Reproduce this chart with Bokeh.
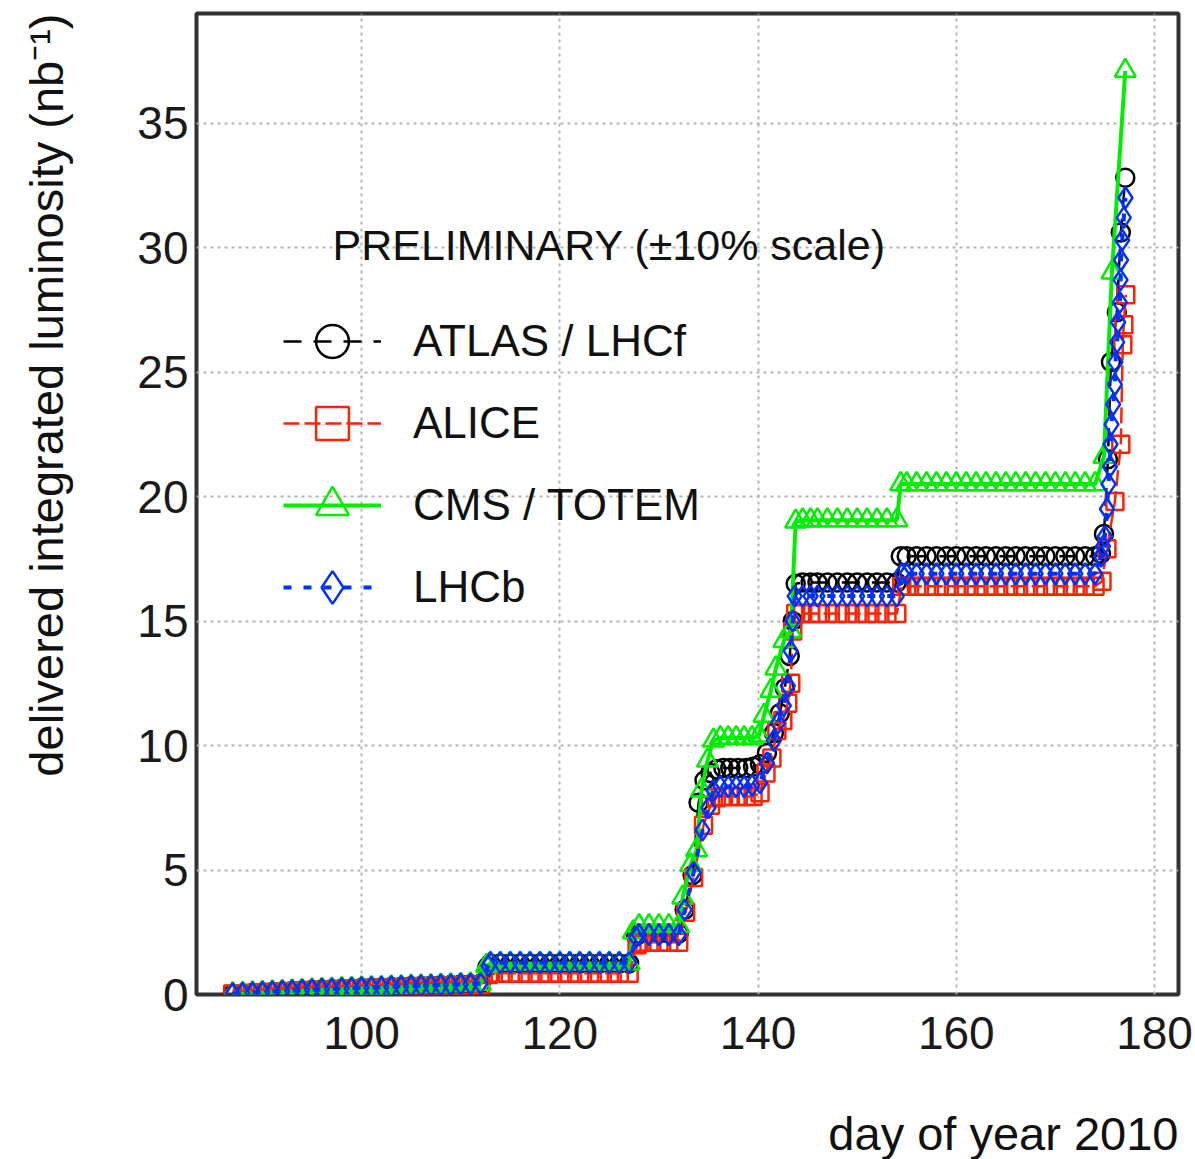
from bokeh.plotting import figure
from bokeh.models import Range1d, Legend, LegendItem, Label, Title, FixedTicker
from bokeh.embed import file_html
from bokeh.resources import INLINE

X_TICKS = [100, 120, 140, 160, 180]
Y_TICKS = [0, 5, 10, 15, 20, 25, 30, 35]

ATLAS_DAY = [
    87, 88, 89, 90, 91, 92, 93, 94, 95, 96, 97, 98, 99,
    100, 101, 102, 103, 104, 105, 106, 107, 108, 109, 110, 111, 112,
    112.7, 113, 114, 115, 116, 117, 118, 119, 120, 121, 122, 123, 124, 125, 126, 127,
    127.7, 128, 129, 130, 131, 132,
    132.6, 133.4, 134.0, 134.6, 135.2, 135.8, 136.5, 137.2, 138.0, 138.8, 139.5,
    140.2, 140.9, 141.6, 142.2, 142.7, 143.2, 143.5, 143.8,
    144.5, 145.3, 146, 147, 148, 149, 150, 151, 152, 153, 154.0,
    154.4, 155, 156, 157, 158, 159, 160, 161, 162, 163, 164, 165, 166, 167, 168, 169, 170, 171, 172, 173, 174,
    174.6, 174.9, 175.3, 175.6, 176.2, 176.6, 177.05,
]
ATLAS_LUM = [
    0.02, 0.04, 0.06, 0.08, 0.10, 0.12, 0.14, 0.16, 0.18, 0.20, 0.21, 0.23, 0.24,
    0.26, 0.27, 0.28, 0.30, 0.31, 0.33, 0.34, 0.35, 0.37, 0.38, 0.40, 0.41, 0.43,
    1.10, 1.25, 1.25, 1.25, 1.25, 1.25, 1.25, 1.25, 1.25, 1.25, 1.25, 1.25, 1.25, 1.25, 1.25, 1.25,
    2.35, 2.45, 2.45, 2.45, 2.45, 2.45,
    3.4, 4.8, 7.7, 8.6, 8.9, 9.05, 9.1, 9.1, 9.1, 9.1, 9.15,
    9.25, 9.7, 10.5, 11.3, 12.3, 13.6, 15.0, 16.5,
    16.55, 16.55, 16.55, 16.55, 16.55, 16.55, 16.55, 16.55, 16.55, 16.55, 16.55,
    17.6, 17.6, 17.6, 17.6, 17.6, 17.6, 17.6, 17.6, 17.6, 17.6, 17.6, 17.6, 17.6, 17.6, 17.6, 17.6, 17.6, 17.6, 17.6, 17.6, 17.6,
    17.7, 18.5, 21.5, 25.4, 27.4, 30.6, 32.8,
]

ALICE_DAY = [
    87, 88, 89, 90, 91, 92, 93, 94, 95, 96, 97, 98, 99,
    100, 101, 102, 103, 104, 105, 106, 107, 108, 109, 110, 111, 112,
    112.8, 113, 114, 115, 116, 117, 118, 119, 120, 121, 122, 123, 124, 125, 126, 127,
    127.8, 128, 129, 130, 131, 132,
    132.7, 133.5, 134.5, 135.2, 135.8, 136.5, 137.2, 138.0, 138.8, 139.5,
    140.2, 140.8, 141.4, 141.9, 142.5, 143.0, 143.3, 143.5, 143.8,
    144.5, 145.3, 146, 147, 148, 149, 150, 151, 152, 153, 154.0,
    154.5, 155, 156, 157, 158, 159, 160, 161, 162, 163, 164, 165, 166, 167, 168, 169, 170, 171, 172, 173, 174,
    174.7, 175.2, 176.0, 176.6, 176.8, 176.9, 177.1,
]
ALICE_LUM = [
    0.02, 0.03, 0.05, 0.07, 0.09, 0.11, 0.12, 0.14, 0.16, 0.17, 0.19, 0.20, 0.22,
    0.23, 0.24, 0.26, 0.27, 0.28, 0.30, 0.31, 0.32, 0.33, 0.35, 0.36, 0.37, 0.39,
    0.80, 0.85, 0.85, 0.85, 0.85, 0.85, 0.85, 0.85, 0.85, 0.85, 0.85, 0.85, 0.85, 0.85, 0.85, 0.85,
    2.00, 2.10, 2.10, 2.10, 2.10, 2.10,
    3.3, 4.7, 6.8, 7.6, 7.9, 7.95, 7.95, 7.95, 7.95, 7.95,
    8.1, 8.9, 9.5, 10.6, 11.0, 11.7, 12.5, 14.6, 15.3,
    15.3, 15.3, 15.3, 15.3, 15.3, 15.3, 15.3, 15.3, 15.3, 15.3, 15.3,
    16.4, 16.4, 16.4, 16.4, 16.4, 16.4, 16.4, 16.4, 16.4, 16.4, 16.4, 16.4, 16.4, 16.4, 16.4, 16.4, 16.4, 16.4, 16.4, 16.4, 16.4,
    16.6, 17.9, 19.8, 22.1, 26.1, 26.9, 28.1,
]

CMS_DAY = [
    87, 88, 89, 90, 91, 92, 93, 94, 95, 96, 97, 98, 99,
    100, 101, 102, 103, 104, 105, 106, 107, 108, 109, 110, 111, 112,
    112.6, 113, 114, 115, 116, 117, 118, 119, 120, 121, 122, 123, 124, 125, 126, 127,
    127.4, 128, 129, 130, 131, 132,
    132.4, 133.2, 133.8, 134.3, 134.9, 135.5, 136.2, 137.0, 137.8, 138.6, 139.4, 140.1,
    140.6, 141.3, 141.8, 142.6, 143.3, 143.8,
    144.5, 145.3, 146, 147, 148, 149, 150, 151, 152, 153, 154.0,
    154.4, 155, 156, 157, 158, 159, 160, 161, 162, 163, 164, 165, 166, 167, 168, 169, 170, 171, 172, 173, 174,
    174.9, 175.7, 177.05,
]
CMS_LUM = [
    0.02, 0.03, 0.05, 0.07, 0.09, 0.11, 0.13, 0.15, 0.17, 0.19, 0.20, 0.22, 0.23,
    0.25, 0.26, 0.27, 0.29, 0.30, 0.32, 0.33, 0.34, 0.36, 0.37, 0.39, 0.40, 0.42,
    1.15, 1.25, 1.25, 1.25, 1.25, 1.25, 1.25, 1.25, 1.25, 1.25, 1.25, 1.25, 1.25, 1.25, 1.25, 1.25,
    2.5, 2.75, 2.75, 2.75, 2.75, 2.75,
    3.9, 5.2, 5.8, 8.2, 9.4, 10.2, 10.3, 10.3, 10.3, 10.3, 10.3, 10.4,
    11.2, 12.2, 13.1, 14.2, 14.6, 19.0,
    19.05, 19.05, 19.05, 19.05, 19.05, 19.05, 19.05, 19.05, 19.05, 19.05, 19.05,
    20.5, 20.5, 20.5, 20.5, 20.5, 20.5, 20.5, 20.5, 20.5, 20.5, 20.5, 20.5, 20.5, 20.5, 20.5, 20.5, 20.5, 20.5, 20.5, 20.5, 20.5,
    21.6, 29.0, 37.1,
]

LHCB_DAY = [
    87, 88, 89, 90, 91, 92, 93, 94, 95, 96, 97, 98, 99,
    100, 101, 102, 103, 104, 105, 106, 107, 108, 109, 110, 111, 112,
    112.8, 113, 114, 115, 116, 117, 118, 119, 120, 121, 122, 123, 124, 125, 126, 127,
    127.7, 128, 129, 130, 131, 132,
    132.6, 133.5, 134.4, 135.0, 135.5, 136.2, 137.0, 137.8, 138.6, 139.4,
    140.2, 140.9, 141.6, 142.0, 142.6, 143.0, 143.3, 143.5, 143.7,
    144.5, 145.3, 146, 147, 148, 149, 150, 151, 152, 153, 154.0,
    154.5, 155, 156, 157, 158, 159, 160, 161, 162, 163, 164, 165, 166, 167, 168, 169, 170, 171, 172, 173, 174,
    174.6, 174.8, 175.0, 175.2, 175.36, 175.5, 175.56, 175.66, 175.83, 176.0,
    176.06, 176.23, 176.33, 176.5, 176.57, 176.62, 176.74, 176.9, 177.07,
]
LHCB_LUM = [
    0.03, 0.05, 0.07, 0.09, 0.11, 0.13, 0.15, 0.17, 0.19, 0.21, 0.22, 0.24, 0.25,
    0.27, 0.28, 0.29, 0.31, 0.32, 0.34, 0.35, 0.36, 0.38, 0.39, 0.41, 0.42, 0.44,
    1.15, 1.28, 1.28, 1.28, 1.28, 1.28, 1.28, 1.28, 1.28, 1.28, 1.28, 1.28, 1.28, 1.28, 1.28, 1.28,
    2.3, 2.4, 2.4, 2.4, 2.4, 2.4,
    3.4, 4.9, 6.6, 7.5, 8.2, 8.35, 8.35, 8.35, 8.35, 8.4,
    8.5, 9.3, 10.2, 10.9, 11.6, 12.4, 13.8, 15.0, 16.0,
    16.0, 16.0, 16.0, 16.0, 16.0, 16.0, 16.0, 16.0, 16.0, 16.0, 16.0,
    16.9, 16.9, 16.9, 16.9, 16.9, 16.9, 16.9, 16.9, 16.9, 16.9, 16.9, 16.9, 16.9, 16.9, 16.9, 16.9, 16.9, 16.9, 16.9, 16.9, 16.9,
    17.6, 18.0, 18.4, 19.5, 20.5, 21.2, 22.1, 22.9, 23.7, 24.5,
    25.4, 26.2, 27.0, 27.8, 28.7, 29.5, 30.3, 31.2, 32.0,
]

LABELS = ["ATLAS / LHCf", "ALICE", "CMS / TOTEM", "LHCb"]
HEADER = "PRELIMINARY (\u00b110% scale)"
X_LABEL = "day of year 2010"
Y_LABEL = "delivered integrated luminosity (nb\u207b\u00b9)"

FONT = "Liberation Sans"
BLACK, RED, GREEN, BLUE = "#000000", "#ff2200", "#00ee00", "#0030ff"

p = figure(width=1195, height=1159, output_backend="svg", toolbar_location=None,
           x_range=Range1d(83.35, 182.42), y_range=Range1d(0, 39.4),
           min_border_left=196, min_border_right=17, min_border_top=13, min_border_bottom=164,
           background_fill_color="white", border_fill_color="white")

p.outline_line_color = "#333333"
p.outline_line_width = 4

p.xaxis.ticker = FixedTicker(ticks=X_TICKS)
p.yaxis.ticker = FixedTicker(ticks=Y_TICKS)
for ax in (p.xaxis[0], p.yaxis[0]):
    ax.axis_line_color = None
    ax.major_tick_line_color = None
    ax.minor_tick_line_color = None
    ax.major_tick_out = 0
    ax.major_tick_in = 0
    ax.minor_tick_out = 0
    ax.minor_tick_in = 0
    ax.major_label_text_font = FONT
    ax.major_label_text_font_size = "46px"
    ax.major_label_text_color = "#1a1a1a"
    # blank spacer label to reserve room between tick labels and the axis title
    ax.axis_label = " "
    ax.axis_label_text_font_size = "1px"
p.xaxis.major_label_standoff = 22
p.yaxis.major_label_standoff = 8
p.xaxis.axis_label_standoff = 49
p.yaxis.axis_label_standoff = 41

for g in (p.xgrid[0], p.ygrid[0]):
    g.grid_line_color = "#b4b4b4"
    g.grid_line_dash = "3 4"
    g.grid_line_width = 2
p.xgrid.ticker = FixedTicker(ticks=X_TICKS)
p.ygrid.ticker = FixedTicker(ticks=Y_TICKS)

l1 = p.line(ATLAS_DAY, ATLAS_LUM, line_color=BLACK, line_width=2.5, line_dash="18 12")
s1 = p.scatter(ATLAS_DAY, ATLAS_LUM, marker="circle", size=18, fill_color=None,
               line_color=BLACK, line_width=2.5)
l2 = p.line(ALICE_DAY, ALICE_LUM, line_color=RED, line_width=2.5, line_dash="16 5")
s2 = p.scatter(ALICE_DAY, ALICE_LUM, marker="square", size=17, fill_color=None,
               line_color=RED, line_width=2.5)
l3 = p.line(CMS_DAY, CMS_LUM, line_color=GREEN, line_width=4)
s3 = p.scatter(CMS_DAY, CMS_LUM, marker="triangle", size=21, fill_color=None,
               line_color=GREEN, line_width=2.5)
l4 = p.line(LHCB_DAY, LHCB_LUM, line_color=BLUE, line_width=4, line_dash="8 12")
s4 = p.scatter(LHCB_DAY, LHCB_LUM, marker="diamond", size=21, fill_color=None,
               line_color=BLUE, line_width=2.5)

legend = Legend(items=[LegendItem(label=LABELS[0], renderers=[l1, s1]),
                       LegendItem(label=LABELS[1], renderers=[l2, s2]),
                       LegendItem(label=LABELS[2], renderers=[l3, s3]),
                       LegendItem(label=LABELS[3], renderers=[l4, s4])],
                location=(87, 366), orientation="vertical",
                glyph_width=98, glyph_height=82, spacing=0, label_standoff=32,
                label_text_font=FONT, label_text_font_size="44px", label_text_color="#111111",
                label_text_baseline="middle",
                padding=0, margin=0, border_line_color=None, background_fill_alpha=0)
p.add_layout(legend)

p.add_layout(Label(x=97.07, y=30.12, text=HEADER, text_font=FONT, text_font_size="43px",
                   text_color="#111111", text_baseline="middle", text_align="left"))

p.add_layout(Title(text=X_LABEL, align="right", text_font=FONT, text_font_size="47px",
                   text_font_style="normal", text_color="#111111", standoff=0), "below")
p.add_layout(Title(text=Y_LABEL, align="right", text_font=FONT, text_font_size="47px",
                   text_font_style="normal", text_color="#111111", standoff=34), "left")

open("out.html", "w").write(file_html(p, INLINE))
